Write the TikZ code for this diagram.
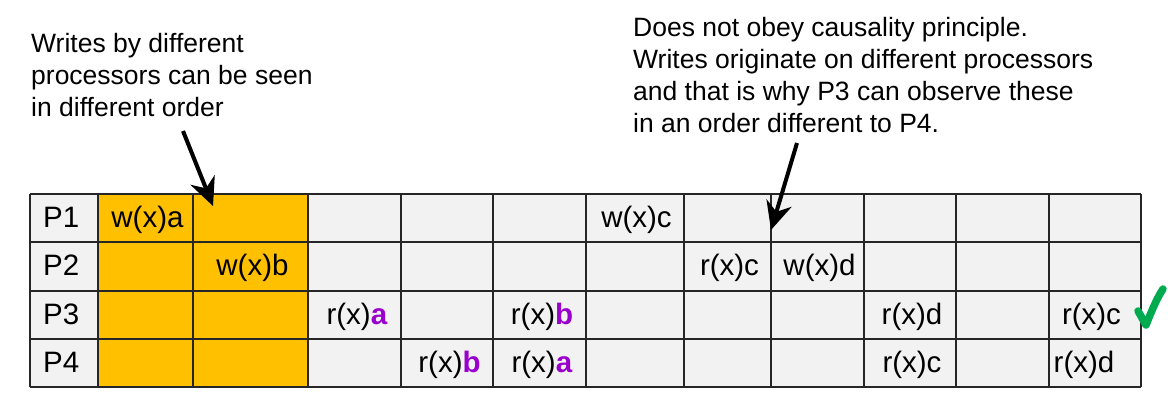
\documentclass[tikz,border=0pt]{standalone}
\usepackage{fontspec}
\setmainfont{Liberation Sans}
\usetikzlibrary{arrows.meta}
\definecolor{cellgrey}{HTML}{F2F2F2}
\definecolor{orangefill}{HTML}{FFC000}
\definecolor{purp}{HTML}{9A00CC}
\definecolor{chk}{HTML}{00AA4F}
\definecolor{gridline}{HTML}{262626}
\begin{document}
\begin{tikzpicture}[x=1bp,y=-1bp,
  celltext/.style={font=\fontsize{29.5bp}{34bp}\selectfont, inner sep=0pt, anchor=base},
  plabel/.style={font=\fontsize{29.5bp}{34bp}\selectfont, inner sep=0pt, anchor=base west},
  note/.style={font=\fontsize{26.5bp}{32bp}\selectfont, inner sep=0pt, anchor=base west},
  pointer/.style={line width=4bp, -{Stealth[length=28bp,width=26bp,inset=9bp]}},
  gridpen/.style={draw=gridline, line width=1.6bp}]
\useasboundingbox (0,0) rectangle (1168,402);
% cells
\fill[cellgrey] (30,194) rectangle (1141,387);
\fill[orangefill] (98,194) rectangle (308,387);
\foreach \x in {30,98,193,308,401,493,586,684,771,864,956,1049,1141}
  \draw[gridpen] (\x,194) -- (\x,387);
\foreach \y in {194,242,291,339,387}
  \draw[gridpen] (30,\y) -- (1141,\y);
% process labels
\node[plabel] (p1) at (43,227) {P1};
\node[plabel] (p2) at (43,275.5) {P2};
\node[plabel] (p3) at (43,324) {P3};
\node[plabel] (p4) at (43,372) {P4};
% row 1
\node[celltext] (wa) at (147.5,227) {w(x)a};
\node[celltext] (wc) at (636.5,227) {w(x)c};
% row 2
\node[celltext] (wb) at (252.5,275.5) {w(x)b};
\node[celltext] (rc2) at (729.5,275.5) {r(x)c};
\node[celltext] (wd) at (819.5,275.5) {w(x)d};
% row 3
\node[celltext] (ra3) at (357,324) {r(x)\textcolor{purp}{\textbf{a}}};
\node[celltext] (rb3) at (542,324) {r(x)\textcolor{purp}{\textbf{b}}};
\node[celltext] (rd3) at (912,324) {r(x)d};
\node[celltext] (rc3) at (1091.5,324) {r(x)c};
% row 4
\node[celltext] (rb4) at (449.5,372) {r(x)\textcolor{purp}{\textbf{b}}};
\node[celltext] (ra4) at (542,372) {r(x)\textcolor{purp}{\textbf{a}}};
\node[celltext] (rc4) at (912,372) {r(x)c};
\node[celltext] (rd4) at (1084,372) {r(x)d};
% annotations
\node[note] (n1a) at (31,52) {Writes by different};
\node[note] (n1b) at (31,84) {processors can be seen};
\node[note] (n1c) at (31,116) {in different order};
\node[note] (n2a) at (633,36) {Does not obey causality principle.};
\node[note] (n2b) at (633,68) {Writes originate on different processors};
\node[note] (n2c) at (633,100) {and that is why P3 can observe these};
\node[note] (n2d) at (633,132) {in an order different to P4.};
% arrows
\coordinate (a1s) at (183,131);
\coordinate (a1e) at (213,206);
\coordinate (a2s) at (797,143);
\coordinate (a2e) at (771,230);
\draw[pointer] (a1s) -- (a1e);
\draw[pointer] (a2s) -- (a2e);
% check mark
\draw[chk, line width=7.5bp, line cap=round, line join=round]
  (1138,311) .. controls (1141,316) and (1143,320) .. (1146,325)
  .. controls (1152,310) and (1157,298) .. (1163,289);
\end{tikzpicture}
\end{document}
